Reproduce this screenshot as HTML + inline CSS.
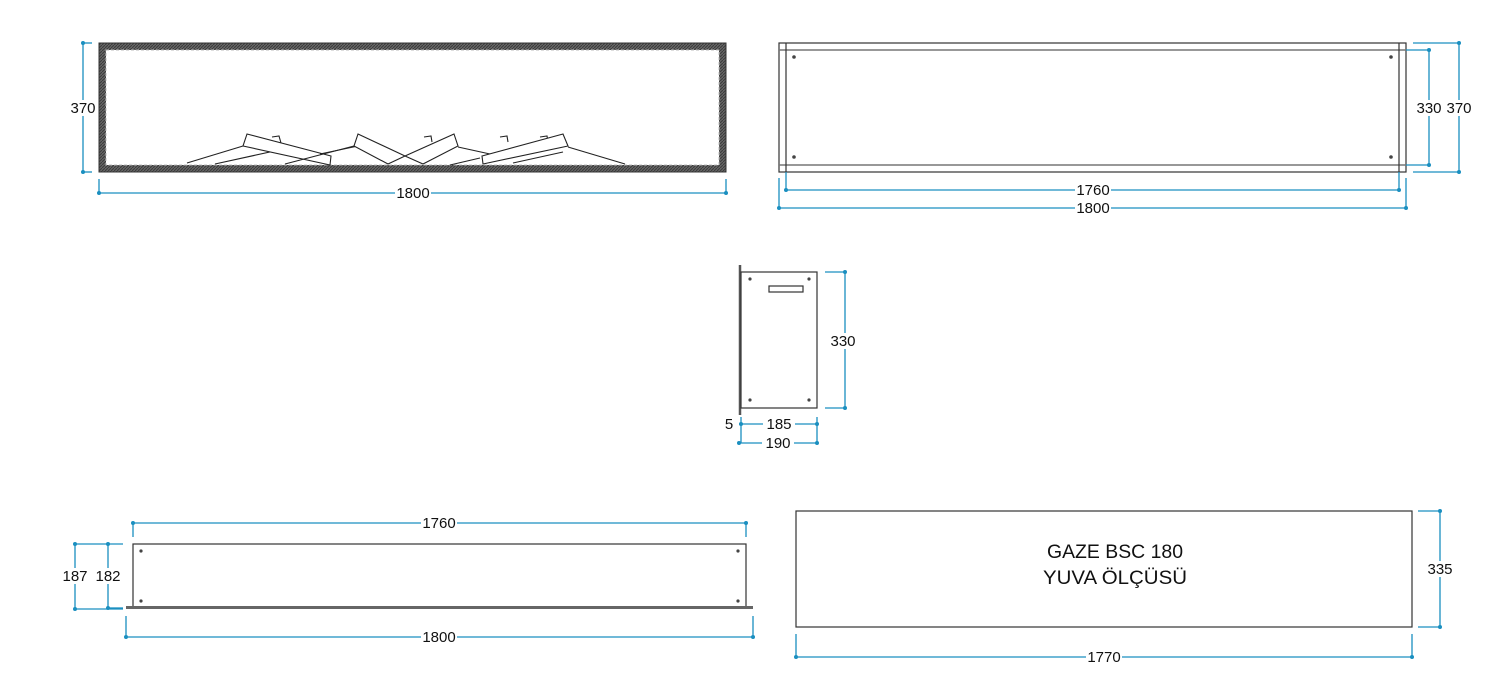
<!DOCTYPE html>
<html><head><meta charset="utf-8"><style>
html,body{margin:0;padding:0;background:#fff;}
svg{display:block;}
text{font-family:"Liberation Sans",sans-serif;font-size:15px;fill:#111;}
.d{stroke:#1a8fc0;stroke-width:1.3;fill:none;}
.o{stroke:#333;stroke-width:1.2;fill:none;}
.dot{fill:#1a8fc0;}
.s{fill:#444;}
</style></head><body>
<svg width="1498" height="697" viewBox="0 0 1498 697" xmlns="http://www.w3.org/2000/svg">
<defs>
<pattern id="h" width="3" height="3" patternUnits="userSpaceOnUse"><rect width="3" height="3" fill="#666"/><path d="M0 3L3 0" stroke="#3a3a3a" stroke-width="1"/></pattern>
</defs>

<!-- TOP LEFT -->
<rect x="99" y="43" width="627" height="129" fill="url(#h)" stroke="#333"/>
<rect x="106" y="50" width="613" height="115" fill="#fff" stroke="#bbb" stroke-dasharray="3 2"/>
<g stroke="#222" stroke-width="1.1" fill="#fff">
<polyline points="187,163 243,146"/>
<polyline points="215,164 279,150"/>
<polyline points="272,137 279,136 281,143"/>
<polygon points="247,134 243,146 330,165 331,156"/>
<polyline points="285,164 354,146"/>
<polyline points="320,154 358,146"/>
<polyline points="424,137 431,136 432,142"/>
<polyline points="500,137 507,136 508,142"/>
<polygon points="358,134 354,146 388,164 405,156"/>
<polygon points="454,134 458,146 423,164 405,156"/>
<polyline points="458,147 490,154"/>
<polyline points="450,165 480,158"/>
<polyline points="540,137 547,136 548,142"/>
<polygon points="482,156 483,164 568,146 563,134"/>
<polyline points="568,147 625,164"/>
<polyline points="513,163 563,152"/>
</g>
<line class="d" x1="83" y1="43" x2="83" y2="172"/><line class="d" x1="83" y1="43" x2="92" y2="43"/><line class="d" x1="83" y1="172" x2="92" y2="172"/>
<circle class="dot" cx="83" cy="43" r="2"/><circle class="dot" cx="83" cy="172" r="2"/>
<rect x="70" y="100" width="26" height="16" fill="#fff"/><text x="83" y="113" text-anchor="middle">370</text>
<line class="d" x1="99" y1="193" x2="726" y2="193"/><line class="d" x1="99" y1="179" x2="99" y2="193"/><line class="d" x1="726" y1="179" x2="726" y2="193"/>
<circle class="dot" cx="99" cy="193" r="2"/><circle class="dot" cx="726" cy="193" r="2"/>
<rect x="395" y="186" width="36" height="14" fill="#fff"/><text x="413" y="198" text-anchor="middle">1800</text>

<!-- TOP RIGHT -->
<rect class="o" x="779" y="43" width="627" height="129"/>
<line x1="779" y1="50" x2="1406" y2="50" stroke="#777" stroke-width="1.5"/>
<line x1="779" y1="165" x2="1406" y2="165" stroke="#777" stroke-width="1.5"/>
<line class="o" x1="786" y1="43" x2="786" y2="172"/><line class="o" x1="1399" y1="43" x2="1399" y2="172"/>
<circle class="s" cx="794" cy="57" r="1.8"/><circle class="s" cx="1391" cy="57" r="1.8"/>
<circle class="s" cx="794" cy="157" r="1.8"/><circle class="s" cx="1391" cy="157" r="1.8"/>
<line class="d" x1="1429" y1="50" x2="1429" y2="165"/><line class="d" x1="1406" y1="50" x2="1429" y2="50"/><line class="d" x1="1406" y1="165" x2="1429" y2="165"/>
<circle class="dot" cx="1429" cy="50" r="2"/><circle class="dot" cx="1429" cy="165" r="2"/>
<line class="d" x1="1459" y1="43" x2="1459" y2="172"/><line class="d" x1="1413" y1="43" x2="1459" y2="43"/><line class="d" x1="1413" y1="172" x2="1459" y2="172"/>
<circle class="dot" cx="1459" cy="43" r="2"/><circle class="dot" cx="1459" cy="172" r="2"/>
<rect x="1416" y="100" width="27" height="16" fill="#fff"/><text x="1429" y="113" text-anchor="middle">330</text>
<rect x="1446" y="100" width="27" height="16" fill="#fff"/><text x="1459" y="113" text-anchor="middle">370</text>
<line class="d" x1="786" y1="190" x2="1399" y2="190"/><line class="d" x1="786" y1="172" x2="786" y2="190"/><line class="d" x1="1399" y1="172" x2="1399" y2="190"/>
<circle class="dot" cx="786" cy="190" r="2"/><circle class="dot" cx="1399" cy="190" r="2"/>
<rect x="1075" y="183" width="36" height="14" fill="#fff"/><text x="1093" y="195" text-anchor="middle">1760</text>
<line class="d" x1="779" y1="208" x2="1406" y2="208"/><line class="d" x1="779" y1="178" x2="779" y2="208"/><line class="d" x1="1406" y1="178" x2="1406" y2="208"/>
<circle class="dot" cx="779" cy="208" r="2"/><circle class="dot" cx="1406" cy="208" r="2"/>
<rect x="1075" y="201" width="36" height="14" fill="#fff"/><text x="1093" y="213" text-anchor="middle">1800</text>

<!-- MIDDLE -->
<line x1="740" y1="265" x2="740" y2="415" stroke="#555" stroke-width="2.5"/>
<rect class="o" x="741" y="272" width="76" height="136"/>
<rect class="o" x="769" y="286" width="34" height="6"/>
<circle class="s" cx="750" cy="279" r="1.6"/><circle class="s" cx="809" cy="279" r="1.6"/>
<circle class="s" cx="750" cy="400" r="1.6"/><circle class="s" cx="809" cy="400" r="1.6"/>
<line class="d" x1="845" y1="272" x2="845" y2="408"/><line class="d" x1="825" y1="272" x2="845" y2="272"/><line class="d" x1="825" y1="408" x2="845" y2="408"/>
<circle class="dot" cx="845" cy="272" r="2"/><circle class="dot" cx="845" cy="408" r="2"/>
<rect x="830" y="333" width="28" height="16" fill="#fff"/><text x="843" y="346" text-anchor="middle">330</text>
<line class="d" x1="739" y1="424" x2="817" y2="424"/><line class="d" x1="817" y1="417" x2="817" y2="443"/><line class="d" x1="741" y1="417" x2="741" y2="443"/>
<circle class="dot" cx="741" cy="424" r="2"/><circle class="dot" cx="817" cy="424" r="2"/>
<line class="d" x1="739" y1="443" x2="817" y2="443"/>
<circle class="dot" cx="739" cy="443" r="2"/><circle class="dot" cx="817" cy="443" r="2"/>
<rect x="763" y="417" width="32" height="14" fill="#fff"/><text x="779" y="429" text-anchor="middle">185</text>
<rect x="762" y="436" width="32" height="14" fill="#fff"/><text x="778" y="448" text-anchor="middle">190</text>
<text x="729" y="429" text-anchor="middle">5</text>

<!-- BOTTOM LEFT -->
<rect class="o" x="133" y="544" width="613" height="63"/>
<rect x="126" y="606" width="627" height="3" fill="#666"/>
<circle class="s" cx="141" cy="551" r="1.6"/><circle class="s" cx="738" cy="551" r="1.6"/>
<circle class="s" cx="141" cy="601" r="1.6"/><circle class="s" cx="738" cy="601" r="1.6"/>
<line class="d" x1="133" y1="523" x2="746" y2="523"/><line class="d" x1="133" y1="523" x2="133" y2="537"/><line class="d" x1="746" y1="523" x2="746" y2="537"/>
<circle class="dot" cx="133" cy="523" r="2"/><circle class="dot" cx="746" cy="523" r="2"/>
<rect x="421" y="516" width="36" height="14" fill="#fff"/><text x="439" y="528" text-anchor="middle">1760</text>
<line class="d" x1="126" y1="637" x2="753" y2="637"/><line class="d" x1="126" y1="616" x2="126" y2="637"/><line class="d" x1="753" y1="616" x2="753" y2="637"/>
<circle class="dot" cx="126" cy="637" r="2"/><circle class="dot" cx="753" cy="637" r="2"/>
<rect x="421" y="630" width="36" height="14" fill="#fff"/><text x="439" y="642" text-anchor="middle">1800</text>
<line class="d" x1="75" y1="544" x2="75" y2="609"/><line class="d" x1="108" y1="544" x2="108" y2="608"/>
<line class="d" x1="75" y1="544" x2="123" y2="544"/><line class="d" x1="75" y1="609" x2="123" y2="609"/><line class="d" x1="108" y1="608" x2="123" y2="608"/>
<circle class="dot" cx="75" cy="544" r="2"/><circle class="dot" cx="75" cy="609" r="2"/>
<circle class="dot" cx="108" cy="544" r="2"/><circle class="dot" cx="108" cy="608" r="2"/>
<rect x="62" y="568" width="27" height="16" fill="#fff"/><text x="75" y="581" text-anchor="middle">187</text>
<rect x="95" y="568" width="27" height="16" fill="#fff"/><text x="108" y="581" text-anchor="middle">182</text>

<!-- BOTTOM RIGHT -->
<rect class="o" x="796" y="511" width="616" height="116"/>
<text x="1115" y="558" text-anchor="middle" style="font-size:19px" textLength="136" lengthAdjust="spacingAndGlyphs">GAZE BSC 180</text>
<text x="1115" y="584" text-anchor="middle" style="font-size:19px" textLength="144" lengthAdjust="spacingAndGlyphs">YUVA  ÖLÇÜSÜ</text>
<line class="d" x1="1440" y1="511" x2="1440" y2="627"/><line class="d" x1="1418" y1="511" x2="1440" y2="511"/><line class="d" x1="1418" y1="627" x2="1440" y2="627"/>
<circle class="dot" cx="1440" cy="511" r="2"/><circle class="dot" cx="1440" cy="627" r="2"/>
<rect x="1427" y="561" width="27" height="16" fill="#fff"/><text x="1440" y="574" text-anchor="middle">335</text>
<line class="d" x1="796" y1="657" x2="1412" y2="657"/><line class="d" x1="796" y1="634" x2="796" y2="657"/><line class="d" x1="1412" y1="634" x2="1412" y2="657"/>
<circle class="dot" cx="796" cy="657" r="2"/><circle class="dot" cx="1412" cy="657" r="2"/>
<rect x="1086" y="650" width="36" height="14" fill="#fff"/><text x="1104" y="662" text-anchor="middle">1770</text>
</svg>
</body></html>
